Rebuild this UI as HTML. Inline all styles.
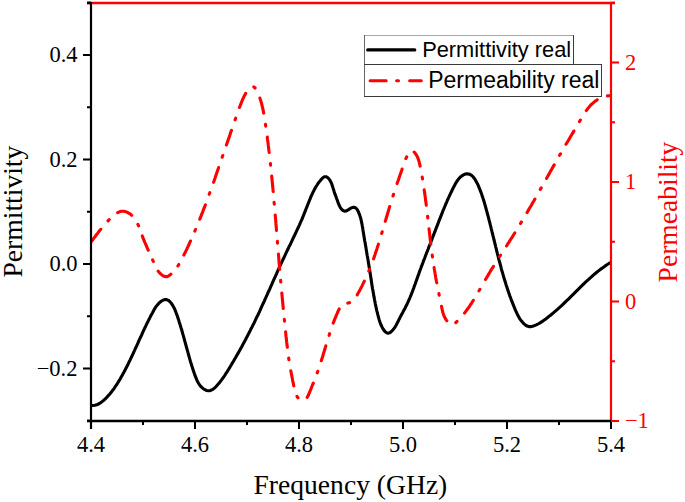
<!DOCTYPE html>
<html><head><meta charset="utf-8"><title>Chart</title>
<style>
html,body{margin:0;padding:0;background:#fff;}
body{width:685px;height:502px;overflow:hidden;}
svg{display:block;}
text{font-family:"Liberation Serif",serif;}
.tk{font-size:22.5px;}
.ttl{font-size:27px;}
.lg{font-family:"Liberation Sans",sans-serif;}
</style></head><body>
<svg width="685" height="502" viewBox="0 0 685 502">
<rect width="685" height="502" fill="#fff"/>
<defs><clipPath id="pc"><rect x="91" y="3" width="520" height="418"/></clipPath></defs>
<!-- curves -->
<path d="M90.9,405.5 L93.0,405.5 L94.9,405.3 L96.7,404.8 L98.4,404.0 L100.0,403.2 L101.5,402.1 L103.0,400.9 L104.4,399.7 L105.8,398.4 L107.1,397.0 L108.3,395.6 L109.6,394.2 L110.8,392.8 L111.9,391.3 L113.1,389.8 L114.2,388.3 L115.2,386.7 L116.3,385.2 L117.3,383.6 L118.3,382.0 L119.3,380.4 L120.3,378.8 L121.2,377.1 L122.1,375.5 L123.0,373.8 L123.9,372.2 L124.8,370.5 L125.7,368.8 L126.5,367.2 L127.4,365.5 L128.2,363.8 L129.0,362.1 L129.9,360.4 L130.7,358.7 L131.5,357.0 L132.3,355.3 L133.1,353.6 L133.9,351.9 L134.7,350.2 L135.4,348.5 L136.2,346.8 L137.0,345.1 L137.8,343.4 L138.5,341.7 L139.3,339.9 L140.1,338.2 L140.9,336.5 L141.7,334.8 L142.4,333.1 L143.2,331.4 L144.0,329.7 L144.8,328.0 L145.6,326.3 L146.4,324.6 L147.2,322.9 L148.1,321.2 L148.9,319.6 L149.8,317.9 L150.6,316.2 L151.5,314.5 L152.4,312.9 L153.3,311.2 L154.2,309.6 L155.2,307.9 L156.2,306.4 L157.4,304.9 L158.6,303.5 L160.0,302.2 L161.5,301.0 L163.2,300.1 L165.0,299.5 L166.7,299.6 L168.3,300.3 L169.7,301.5 L171.1,303.0 L172.2,304.6 L173.2,306.3 L174.1,307.9 L174.9,309.6 L175.6,311.3 L176.2,313.1 L176.9,314.8 L177.5,316.6 L178.1,318.4 L178.7,320.1 L179.2,321.9 L179.8,323.7 L180.4,325.6 L180.9,327.4 L181.5,329.2 L182.0,331.0 L182.5,332.8 L183.0,334.6 L183.5,336.4 L184.0,338.2 L184.5,340.0 L185.0,341.9 L185.5,343.7 L186.0,345.5 L186.5,347.3 L187.0,349.1 L187.5,350.9 L188.0,352.7 L188.5,354.5 L189.0,356.3 L189.5,358.1 L190.0,359.9 L190.5,361.7 L191.1,363.5 L191.6,365.3 L192.2,367.1 L192.8,368.9 L193.4,370.7 L194.0,372.5 L194.6,374.3 L195.3,376.1 L196.0,377.9 L196.7,379.6 L197.5,381.4 L198.4,383.0 L199.4,384.6 L200.5,386.1 L201.8,387.4 L203.3,388.7 L204.9,389.7 L206.6,390.5 L208.4,390.8 L210.0,390.7 L211.6,390.0 L213.2,389.1 L214.7,387.9 L216.1,386.5 L217.4,385.0 L218.7,383.5 L220.0,381.9 L221.2,380.4 L222.3,378.9 L223.4,377.3 L224.5,375.8 L225.5,374.2 L226.5,372.7 L227.5,371.1 L228.5,369.5 L229.5,367.9 L230.4,366.3 L231.4,364.7 L232.3,363.1 L233.3,361.5 L234.2,359.9 L235.2,358.3 L236.1,356.7 L237.0,355.1 L238.0,353.4 L238.9,351.8 L239.8,350.2 L240.7,348.5 L241.6,346.9 L242.5,345.2 L243.4,343.6 L244.3,341.9 L245.2,340.3 L246.1,338.6 L246.9,336.9 L247.8,335.3 L248.7,333.6 L249.5,331.9 L250.4,330.2 L251.2,328.5 L252.1,326.9 L252.9,325.2 L253.8,323.5 L254.6,321.8 L255.4,320.1 L256.2,318.4 L257.0,316.7 L257.9,315.0 L258.7,313.3 L259.5,311.6 L260.3,309.9 L261.0,308.2 L261.8,306.4 L262.6,304.7 L263.4,303.0 L264.2,301.3 L264.9,299.6 L265.7,297.9 L266.5,296.2 L267.3,294.4 L268.0,292.7 L268.8,291.0 L269.6,289.3 L270.3,287.6 L271.1,285.9 L271.9,284.1 L272.6,282.4 L273.4,280.7 L274.1,279.0 L274.9,277.3 L275.7,275.6 L276.5,273.8 L277.2,272.1 L278.0,270.4 L278.8,268.7 L279.5,267.0 L280.3,265.3 L281.1,263.6 L281.9,261.9 L282.7,260.2 L283.5,258.5 L284.3,256.8 L285.1,255.1 L285.9,253.4 L286.7,251.7 L287.5,250.0 L288.3,248.3 L289.1,246.6 L290.0,245.0 L290.8,243.3 L291.6,241.6 L292.4,239.9 L293.2,238.2 L294.0,236.5 L294.8,234.8 L295.6,233.1 L296.4,231.4 L297.2,229.7 L298.0,228.0 L298.8,226.3 L299.6,224.6 L300.3,222.8 L301.1,221.1 L301.9,219.4 L302.6,217.6 L303.3,215.9 L304.0,214.1 L304.7,212.4 L305.4,210.6 L306.1,208.8 L306.8,207.1 L307.5,205.3 L308.2,203.5 L308.9,201.8 L309.6,200.0 L310.3,198.3 L311.0,196.5 L311.8,194.8 L312.6,193.1 L313.4,191.4 L314.3,189.8 L315.2,188.1 L316.1,186.5 L317.1,185.0 L318.1,183.4 L319.2,181.9 L320.4,180.5 L321.6,179.1 L322.9,177.7 L324.3,176.7 L326.0,176.7 L327.7,177.6 L329.1,179.0 L330.3,180.8 L331.2,182.6 L331.9,184.4 L332.5,186.2 L333.0,187.9 L333.6,189.7 L334.1,191.4 L334.7,193.2 L335.3,194.9 L336.0,196.7 L336.6,198.5 L337.3,200.3 L337.9,202.1 L338.6,203.8 L339.3,205.6 L340.2,207.3 L341.3,208.9 L342.8,210.3 L344.4,211.1 L346.0,211.0 L347.7,210.2 L349.3,209.1 L351.1,208.0 L352.9,207.4 L354.6,207.4 L356.0,208.2 L357.2,209.5 L358.1,211.2 L358.9,213.0 L359.6,214.9 L360.2,216.8 L360.8,218.6 L361.2,220.5 L361.6,222.3 L362.0,224.1 L362.3,226.0 L362.7,227.8 L362.9,229.7 L363.2,231.5 L363.5,233.3 L363.8,235.2 L364.1,237.0 L364.4,238.9 L364.7,240.7 L365.1,242.6 L365.4,244.4 L365.7,246.3 L366.0,248.1 L366.3,250.0 L366.6,251.8 L366.9,253.7 L367.2,255.5 L367.6,257.4 L367.9,259.2 L368.2,261.1 L368.5,263.0 L368.8,264.8 L369.1,266.7 L369.4,268.6 L369.7,270.4 L370.0,272.3 L370.3,274.1 L370.6,276.0 L370.9,277.9 L371.2,279.7 L371.4,281.6 L371.7,283.4 L372.0,285.3 L372.3,287.2 L372.6,289.0 L373.0,290.9 L373.3,292.7 L373.6,294.6 L373.9,296.4 L374.3,298.3 L374.6,300.1 L375.0,302.0 L375.3,303.8 L375.7,305.6 L376.1,307.5 L376.5,309.3 L376.9,311.1 L377.4,312.9 L377.8,314.7 L378.3,316.5 L378.8,318.4 L379.3,320.2 L379.9,321.9 L380.5,323.7 L381.3,325.5 L382.1,327.2 L383.1,329.0 L384.2,330.6 L385.5,332.0 L387.0,333.0 L388.6,333.2 L390.2,332.5 L391.7,331.2 L393.0,329.8 L394.1,328.4 L395.2,326.8 L396.1,325.2 L397.0,323.5 L397.9,321.8 L398.7,320.1 L399.6,318.4 L400.4,316.7 L401.3,315.1 L402.2,313.4 L403.1,311.8 L404.0,310.1 L404.9,308.4 L405.7,306.8 L406.6,305.1 L407.4,303.4 L408.2,301.7 L408.9,300.0 L409.7,298.3 L410.4,296.5 L411.1,294.8 L411.8,293.0 L412.5,291.3 L413.1,289.5 L413.8,287.8 L414.4,286.0 L415.1,284.2 L415.7,282.5 L416.3,280.7 L417.0,278.9 L417.6,277.1 L418.2,275.4 L418.9,273.6 L419.5,271.8 L420.1,270.1 L420.8,268.3 L421.4,266.5 L422.1,264.8 L422.8,263.0 L423.4,261.2 L424.1,259.5 L424.8,257.7 L425.4,256.0 L426.1,254.2 L426.8,252.5 L427.5,250.7 L428.2,249.0 L428.8,247.2 L429.5,245.5 L430.2,243.7 L430.9,241.9 L431.6,240.2 L432.2,238.4 L432.9,236.7 L433.6,234.9 L434.3,233.2 L435.0,231.4 L435.6,229.7 L436.3,227.9 L437.0,226.2 L437.7,224.4 L438.3,222.7 L439.0,220.9 L439.7,219.2 L440.4,217.4 L441.1,215.7 L441.8,213.9 L442.4,212.2 L443.1,210.4 L443.9,208.7 L444.6,207.0 L445.3,205.2 L446.0,203.5 L446.8,201.8 L447.5,200.0 L448.3,198.3 L449.1,196.6 L449.9,194.9 L450.7,193.2 L451.5,191.5 L452.3,189.8 L453.2,188.1 L454.0,186.4 L454.9,184.7 L455.8,183.1 L456.8,181.5 L457.9,179.9 L459.0,178.5 L460.3,177.1 L461.8,176.0 L463.4,174.9 L465.1,174.1 L467.0,173.8 L468.8,174.0 L470.6,174.7 L472.1,175.8 L473.4,177.2 L474.6,178.8 L475.6,180.4 L476.5,182.0 L477.4,183.7 L478.2,185.4 L478.9,187.1 L479.6,188.9 L480.3,190.6 L481.0,192.4 L481.6,194.1 L482.2,195.9 L482.8,197.7 L483.4,199.5 L484.0,201.3 L484.5,203.1 L485.0,204.9 L485.5,206.7 L486.0,208.5 L486.5,210.3 L487.0,212.1 L487.5,214.0 L488.0,215.8 L488.5,217.6 L488.9,219.4 L489.4,221.3 L489.9,223.1 L490.3,224.9 L490.8,226.7 L491.2,228.6 L491.7,230.4 L492.1,232.2 L492.6,234.0 L493.0,235.9 L493.5,237.7 L493.9,239.5 L494.4,241.3 L494.8,243.2 L495.3,245.0 L495.7,246.8 L496.2,248.6 L496.6,250.5 L497.1,252.3 L497.5,254.1 L498.0,255.9 L498.5,257.8 L498.9,259.6 L499.4,261.4 L499.9,263.2 L500.4,265.0 L500.9,266.8 L501.3,268.6 L501.8,270.5 L502.4,272.3 L502.9,274.1 L503.4,275.9 L503.9,277.7 L504.5,279.5 L505.0,281.3 L505.6,283.1 L506.1,284.9 L506.7,286.6 L507.3,288.4 L507.9,290.2 L508.5,292.0 L509.1,293.8 L509.7,295.6 L510.4,297.3 L511.0,299.1 L511.7,300.9 L512.4,302.6 L513.1,304.4 L513.8,306.1 L514.5,307.9 L515.2,309.6 L516.0,311.4 L516.8,313.1 L517.6,314.8 L518.5,316.4 L519.4,318.1 L520.4,319.6 L521.5,321.1 L522.8,322.6 L524.1,323.9 L525.5,325.1 L527.1,326.1 L528.8,326.6 L530.6,326.6 L532.6,326.3 L534.5,325.6 L536.3,324.9 L538.0,324.0 L539.6,323.1 L541.2,322.1 L542.8,321.1 L544.3,320.0 L545.8,318.9 L547.3,317.8 L548.7,316.6 L550.2,315.5 L551.7,314.3 L553.1,313.1 L554.5,311.9 L556.0,310.6 L557.4,309.4 L558.8,308.1 L560.2,306.9 L561.6,305.6 L562.9,304.3 L564.3,303.0 L565.7,301.7 L567.0,300.4 L568.4,299.1 L569.7,297.8 L571.1,296.4 L572.4,295.1 L573.7,293.8 L575.1,292.4 L576.4,291.1 L577.7,289.8 L579.1,288.5 L580.4,287.1 L581.7,285.8 L583.1,284.5 L584.5,283.2 L585.8,281.9 L587.2,280.6 L588.6,279.4 L590.0,278.1 L591.4,276.9 L592.8,275.6 L594.2,274.4 L595.6,273.2 L597.1,272.0 L598.5,270.9 L600.0,269.7 L601.5,268.6 L603.1,267.5 L604.6,266.4 L606.2,265.3 L607.7,264.3 L609.3,263.3 L611.0,262.3" fill="none" stroke="#000" stroke-width="3.1" stroke-linejoin="round" stroke-linecap="butt" clip-path="url(#pc)"/>
<path d="M91.3,241.5 L92.7,239.7 L94.1,237.9 L95.4,236.2 L96.6,234.5 L97.9,232.9 L99.1,231.3 L100.4,229.8 L100.8,229.3 M108.0,220.9 L109.2,219.6 M117.7,212.7 L119.5,211.8 L121.4,211.3 L123.4,211.2 L125.3,211.6 L127.3,212.3 L129.1,213.3 L130.9,214.6 L131.7,215.3 M137.9,224.3 L138.6,225.9 M142.3,235.9 L143.0,237.9 L143.8,239.9 L144.6,241.9 L145.5,243.8 L146.3,245.7 L147.1,247.6 L148.0,249.6 L148.3,250.2 M152.6,259.9 L153.3,261.5 M158.2,271.2 L159.6,272.8 L161.2,274.4 L163.0,275.8 L165.0,276.6 L167.0,276.6 L168.8,275.8 L170.6,274.5 L170.9,274.2 M177.9,266.0 L178.8,264.5 M183.9,255.0 L184.8,253.1 L185.8,251.2 L186.7,249.3 L187.6,247.4 L188.5,245.5 L189.4,243.5 L190.2,241.6 L190.5,241.0 M194.8,231.1 L195.5,229.5 M199.8,219.2 L200.6,217.2 L201.3,215.2 L202.1,213.3 L202.9,211.3 L203.6,209.3 L204.4,207.4 L205.1,205.4 L205.4,204.8 M209.2,194.3 L209.8,192.7 M213.6,182.3 L214.3,180.3 L215.0,178.3 L215.6,176.3 L216.3,174.3 L217.0,172.3 L217.7,170.3 L218.4,168.3 L218.6,167.6 M222.2,157.2 L222.8,155.5 M226.4,145.0 L227.1,143.0 L227.8,141.0 L228.5,139.0 L229.2,137.0 L229.9,135.0 L230.5,133.0 L231.2,131.0 L231.5,130.4 M235.1,119.8 L235.7,118.2 M239.5,107.5 L240.2,105.5 L241.0,103.5 L241.8,101.5 L242.6,99.5 L243.5,97.6 L244.4,95.7 L245.4,93.9 L245.7,93.4 M253.8,86.8 L255.1,88.0 M259.9,98.1 L260.6,100.3 L261.2,102.2 L261.7,104.2 L262.2,106.1 L262.7,108.1 L263.1,110.1 L263.5,112.1 L263.7,113.1 M265.5,124.3 L265.7,126.1 M267.3,137.1 L267.5,139.2 L267.8,141.3 L268.1,143.4 L268.3,145.5 L268.6,147.6 L268.8,149.7 L269.1,151.8 L269.2,152.4 M270.4,163.5 L270.6,165.2 M271.7,176.1 L271.9,178.1 L272.1,180.2 L272.3,182.3 L272.5,184.4 L272.7,186.5 L272.9,188.6 L273.1,190.7 L273.2,191.5 M274.1,202.3 L274.3,204.1 M275.2,215.0 L275.4,217.1 L275.6,219.2 L275.8,221.3 L275.9,223.4 L276.1,225.6 L276.3,227.7 L276.4,229.8 L276.5,230.4 M277.4,241.3 L277.5,243.1 M278.4,254.0 L278.6,256.1 L278.8,258.2 L278.9,260.3 L279.1,262.4 L279.3,264.5 L279.4,266.6 L279.6,268.7 L279.7,269.4 M280.6,280.3 L280.8,282.0 M281.8,293.0 L282.0,295.1 L282.2,297.2 L282.4,299.3 L282.6,301.4 L282.8,303.5 L283.0,305.6 L283.2,307.7 L283.2,308.4 M284.3,319.4 L284.5,321.2 M285.6,331.9 L285.8,334.1 L286.0,336.2 L286.3,338.3 L286.5,340.4 L286.7,342.5 L287.0,344.6 L287.2,346.8 L287.3,347.3 M288.7,358.1 L288.9,359.8 M290.8,370.7 L291.2,372.7 L291.6,374.8 L292.0,376.9 L292.4,379.0 L292.8,381.1 L293.3,383.3 L293.7,385.5 L293.8,385.8 M297.0,396.3 L298.0,397.8 M307.2,397.3 L308.3,395.4 L309.2,393.2 L310.1,391.0 L311.0,388.9 L311.8,386.8 L312.6,384.7 L313.3,383.1 M317.2,372.9 L317.8,371.3 M321.3,360.7 L321.9,358.7 L322.6,356.7 L323.2,354.6 L323.8,352.6 L324.4,350.6 L325.0,348.5 L325.7,346.5 L325.8,345.9 M329.1,335.4 L329.6,333.7 M333.2,323.1 L334.0,321.2 L334.7,319.2 L335.5,317.3 L336.3,315.3 L337.2,313.4 L338.0,311.4 L339.0,309.5 L339.2,308.9 M347.8,303.1 L349.5,302.7 M357.2,294.9 L358.2,293.1 L359.2,291.2 L360.2,289.4 L361.2,287.5 L362.2,285.6 L363.1,283.7 L364.0,281.8 L364.3,281.2 M368.8,271.0 L369.5,269.3 M373.5,258.9 L374.2,256.9 L374.9,254.9 L375.5,252.9 L376.2,250.9 L376.9,248.9 L377.5,246.9 L378.2,244.9 L378.4,244.2 M381.7,233.5 L382.2,231.8 M385.3,221.3 L385.9,219.3 L386.5,217.2 L387.1,215.2 L387.7,213.2 L388.3,211.2 L388.9,209.1 L389.5,207.1 L389.7,206.5 M393.0,196.0 L393.5,194.3 M397.1,183.6 L397.8,181.6 L398.5,179.7 L399.1,177.7 L399.8,175.7 L400.5,173.7 L401.2,171.7 L401.9,169.7 L402.1,169.0 M405.9,158.5 L406.7,156.9 M414.1,152.1 L415.4,153.6 L416.5,155.2 L417.5,157.0 L418.2,158.9 L418.9,160.9 L419.4,163.0 L419.9,165.1 L420.1,166.1 M422.2,177.1 L422.5,178.9 M424.2,189.9 L424.5,191.9 L424.8,194.0 L425.1,196.1 L425.4,198.2 L425.6,200.3 L425.9,202.3 L426.2,204.4 L426.3,205.2 M427.6,216.2 L427.8,218.0 M429.0,228.9 L429.3,231.0 L429.5,233.1 L429.8,235.2 L430.0,237.3 L430.2,239.4 L430.5,241.5 L430.7,243.6 L430.8,244.2 M432.2,255.1 L432.5,256.9 M434.1,267.6 L434.4,269.7 L434.8,271.8 L435.1,273.8 L435.5,275.9 L435.8,278.0 L436.2,280.0 L436.6,282.1 L436.8,282.8 M438.9,293.5 L439.2,295.2 M441.5,306.3 L441.9,308.4 L442.4,310.5 L442.9,312.5 L443.5,314.5 L444.2,316.3 L445.1,318.1 L446.2,320.0 L446.8,320.7 M455.8,322.6 L457.0,321.4 M464.5,313.1 L465.8,311.4 L467.0,309.7 L468.3,308.0 L469.5,306.3 L470.6,304.5 L471.8,302.8 L472.9,301.0 L473.3,300.4 M479.0,290.8 L479.9,289.3 M485.5,279.5 L486.6,277.7 L487.7,275.9 L488.7,274.1 L489.8,272.3 L490.9,270.4 L492.0,268.7 L493.2,266.9 L493.5,266.3 M499.6,256.7 L500.5,255.2 M506.5,246.0 L507.6,244.2 L508.8,242.4 L509.9,240.6 L511.0,238.8 L512.2,237.1 L513.3,235.3 L514.4,233.5 L514.8,232.9 M520.5,223.5 L521.4,222.0 M527.1,212.5 L528.2,210.6 L529.2,208.8 L530.3,207.0 L531.4,205.2 L532.4,203.3 L533.5,201.5 L534.5,199.7 L534.9,199.1 M540.3,189.4 L541.2,187.9 M546.6,178.3 L547.6,176.5 L548.7,174.6 L549.7,172.8 L550.7,170.9 L551.8,169.1 L552.8,167.3 L553.9,165.4 L554.2,164.9 M559.6,155.3 L560.5,153.8 M566.0,144.3 L567.1,142.5 L568.2,140.7 L569.3,138.9 L570.3,137.0 L571.4,135.2 L572.5,133.4 L573.6,131.6 L573.9,131.0 M579.5,121.6 L580.4,120.0 M586.3,110.6 L587.5,108.9 L588.9,107.3 L590.2,105.7 L591.7,104.2 L593.3,102.8 L594.9,101.4 L596.7,100.2 L597.2,99.8 M607.4,95.9 L609.2,95.7" fill="none" stroke="#f00" stroke-width="3.1" stroke-linejoin="round" stroke-linecap="round" clip-path="url(#pc)"/>
<!-- axes -->
<line x1="87" y1="3" x2="615" y2="3" stroke="#f00" stroke-width="2.4"/>
<line x1="87" y1="3" x2="91" y2="3" stroke="#000" stroke-width="2.4"/>
<line x1="611" y1="1.9" x2="611" y2="422.1" stroke="#f00" stroke-width="2.2"/>
<line x1="87" y1="421" x2="611" y2="421" stroke="#000" stroke-width="2.6"/>
<line x1="91" y1="1.9" x2="91" y2="429" stroke="#000" stroke-width="2.2"/>
<line x1="87" y1="420.75" x2="91" y2="420.75" stroke="#000" stroke-width="2.05"/>
<line x1="83" y1="368.50" x2="91" y2="368.50" stroke="#000" stroke-width="2.05"/>
<text x="77.5" y="375.80" text-anchor="end" class="tk">−0.2</text>
<line x1="87" y1="316.25" x2="91" y2="316.25" stroke="#000" stroke-width="2.05"/>
<line x1="83" y1="264.00" x2="91" y2="264.00" stroke="#000" stroke-width="2.05"/>
<text x="77.5" y="271.30" text-anchor="end" class="tk">0.0</text>
<line x1="87" y1="211.75" x2="91" y2="211.75" stroke="#000" stroke-width="2.05"/>
<line x1="83" y1="159.50" x2="91" y2="159.50" stroke="#000" stroke-width="2.05"/>
<text x="77.5" y="166.80" text-anchor="end" class="tk">0.2</text>
<line x1="87" y1="107.25" x2="91" y2="107.25" stroke="#000" stroke-width="2.05"/>
<line x1="83" y1="55.00" x2="91" y2="55.00" stroke="#000" stroke-width="2.05"/>
<text x="77.5" y="62.30" text-anchor="end" class="tk">0.4</text>
<line x1="87" y1="2.75" x2="91" y2="2.75" stroke="#000" stroke-width="2.05"/>
<line x1="91.00" y1="421" x2="91.00" y2="429" stroke="#000" stroke-width="2.05"/>
<text x="91.00" y="452" text-anchor="middle" class="tk">4.4</text>
<line x1="143.00" y1="421" x2="143.00" y2="425" stroke="#000" stroke-width="2.05"/>
<line x1="195.00" y1="421" x2="195.00" y2="429" stroke="#000" stroke-width="2.05"/>
<text x="195.00" y="452" text-anchor="middle" class="tk">4.6</text>
<line x1="247.00" y1="421" x2="247.00" y2="425" stroke="#000" stroke-width="2.05"/>
<line x1="299.00" y1="421" x2="299.00" y2="429" stroke="#000" stroke-width="2.05"/>
<text x="299.00" y="452" text-anchor="middle" class="tk">4.8</text>
<line x1="351.00" y1="421" x2="351.00" y2="425" stroke="#000" stroke-width="2.05"/>
<line x1="403.00" y1="421" x2="403.00" y2="429" stroke="#000" stroke-width="2.05"/>
<text x="403.00" y="452" text-anchor="middle" class="tk">5.0</text>
<line x1="455.00" y1="421" x2="455.00" y2="425" stroke="#000" stroke-width="2.05"/>
<line x1="507.00" y1="421" x2="507.00" y2="429" stroke="#000" stroke-width="2.05"/>
<text x="507.00" y="452" text-anchor="middle" class="tk">5.2</text>
<line x1="559.00" y1="421" x2="559.00" y2="425" stroke="#000" stroke-width="2.05"/>
<line x1="611.00" y1="421" x2="611.00" y2="429" stroke="#000" stroke-width="2.05"/>
<text x="611.00" y="452" text-anchor="middle" class="tk">5.4</text>
<line x1="611" y1="421.00" x2="619" y2="421.00" stroke="#f00" stroke-width="2.05"/>
<text x="624.9" y="428.20" text-anchor="start" class="tk" fill="#f00">−1</text>
<line x1="611" y1="361.25" x2="615" y2="361.25" stroke="#f00" stroke-width="2.05"/>
<line x1="611" y1="301.50" x2="619" y2="301.50" stroke="#f00" stroke-width="2.05"/>
<text x="624.9" y="308.70" text-anchor="start" class="tk" fill="#f00">0</text>
<line x1="611" y1="241.75" x2="615" y2="241.75" stroke="#f00" stroke-width="2.05"/>
<line x1="611" y1="182.00" x2="619" y2="182.00" stroke="#f00" stroke-width="2.05"/>
<text x="624.9" y="189.20" text-anchor="start" class="tk" fill="#f00">1</text>
<line x1="611" y1="122.25" x2="615" y2="122.25" stroke="#f00" stroke-width="2.05"/>
<line x1="611" y1="62.50" x2="619" y2="62.50" stroke="#f00" stroke-width="2.05"/>
<text x="624.9" y="69.70" text-anchor="start" class="tk" fill="#f00">2</text>
<line x1="611" y1="2.75" x2="615" y2="2.75" stroke="#f00" stroke-width="2.05"/>
<!-- titles -->
<text class="ttl" x="350.4" y="493.8" text-anchor="middle" style="font-size:27.6px">Frequency (GHz)</text>
<text class="ttl" transform="translate(22,211.6) rotate(-90)" text-anchor="middle" style="font-size:27.6px">Permittivity</text>
<text class="ttl" transform="translate(677.2,212) rotate(-90)" text-anchor="middle" fill="#f00" style="font-size:27.55px">Permeability</text>
<!-- legend -->
<g shape-rendering="crispEdges">
<rect x="364" y="35" width="238" height="62" fill="#fff"/>
<rect x="364" y="35" width="210" height="1" fill="#a8a8a8"/>
<rect x="364" y="35" width="1" height="62" fill="#666"/>
<rect x="573" y="35" width="1" height="30" fill="#3a3a3a"/>
<rect x="364" y="64" width="238" height="1" fill="#3a3a3a"/>
<rect x="601" y="64" width="1" height="33" fill="#3a3a3a"/>
<rect x="364" y="96" width="238" height="1" fill="#3a3a3a"/>
</g>
<line x1="367.7" y1="49.9" x2="414.8" y2="49.9" stroke="#000" stroke-width="3.1" stroke-linecap="round"/>
<path d="M370.1,80.8 H421.3" stroke="#f00" stroke-width="3" stroke-linecap="round" stroke-dasharray="16.1 10.4 1.9 11.1 11.7 100" fill="none"/>
<text class="lg" x="422.2" y="57.2" font-size="21.8">Permittivity real</text>
<text class="lg" x="428.2" y="88.4" font-size="23">Permeability real</text>
</svg>
</body></html>
